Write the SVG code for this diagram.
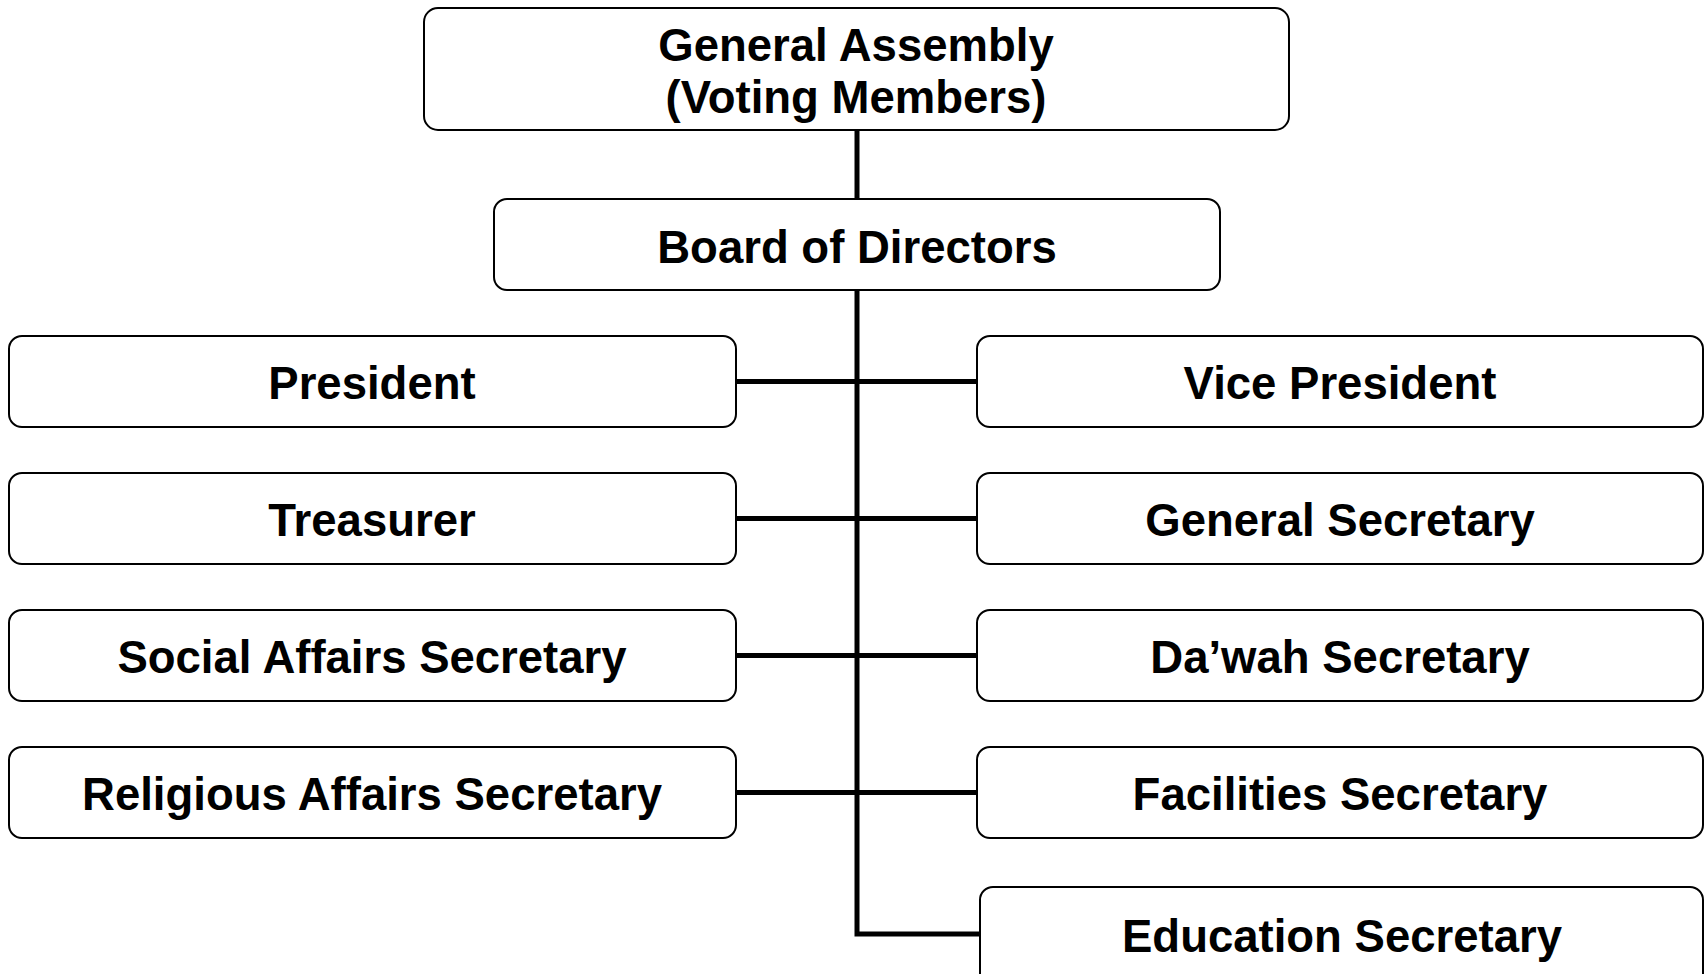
<svg xmlns="http://www.w3.org/2000/svg" width="1705" height="974" viewBox="0 0 1705 974">
<style>
.box{fill:#fff;stroke:#000;stroke-width:2}
.t{font-family:"Liberation Sans",Arial,sans-serif;font-weight:bold;font-size:45.5px;text-anchor:middle;fill:#000}
.c{stroke:#000;stroke-width:5;fill:none}
</style>
<rect width="1705" height="974" fill="#fff"/>
<g id="connectors">
<line class="c" x1="857" y1="130" x2="857" y2="199"/>
<polyline class="c" points="857,290 857,934 980,934"/>
<line class="c" x1="736" y1="381.5" x2="977" y2="381.5"/>
<line class="c" x1="736" y1="518.5" x2="977" y2="518.5"/>
<line class="c" x1="736" y1="655.5" x2="977" y2="655.5"/>
<line class="c" x1="736" y1="792.5" x2="977" y2="792.5"/>
</g>
<g id="general-assembly">
<rect class="box" x="424" y="8" width="865" height="122" rx="14"/>
<text class="t" x="856" y="61">General Assembly</text>
<text class="t" x="856" y="113">(Voting Members)</text>
</g>
<g id="board">
<rect class="box" x="494" y="199" width="726" height="91" rx="13"/>
<text class="t" x="857" y="263">Board of Directors</text>
</g>
<g id="president">
<rect class="box" x="9" y="336" width="727" height="91" rx="13"/>
<text class="t" x="372" y="399">President</text>
</g>
<g id="vice-president">
<rect class="box" x="977" y="336" width="726" height="91" rx="13"/>
<text class="t" x="1340" y="399">Vice President</text>
</g>
<g id="treasurer">
<rect class="box" x="9" y="473" width="727" height="91" rx="13"/>
<text class="t" x="372" y="536">Treasurer</text>
</g>
<g id="general-secretary">
<rect class="box" x="977" y="473" width="726" height="91" rx="13"/>
<text class="t" x="1340" y="536">General Secretary</text>
</g>
<g id="social-affairs">
<rect class="box" x="9" y="610" width="727" height="91" rx="13"/>
<text class="t" x="372" y="673">Social Affairs Secretary</text>
</g>
<g id="dawah">
<rect class="box" x="977" y="610" width="726" height="91" rx="13"/>
<text class="t" x="1340" y="673">Da’wah Secretary</text>
</g>
<g id="religious-affairs">
<rect class="box" x="9" y="747" width="727" height="91" rx="13"/>
<text class="t" x="372" y="810">Religious Affairs Secretary</text>
</g>
<g id="facilities">
<rect class="box" x="977" y="747" width="726" height="91" rx="13"/>
<text class="t" x="1340" y="810">Facilities Secretary</text>
</g>
<g id="education">
<rect class="box" x="980" y="887" width="723" height="100" rx="13"/>
<text class="t" x="1342" y="952">Education Secretary</text>
</g>
</svg>
